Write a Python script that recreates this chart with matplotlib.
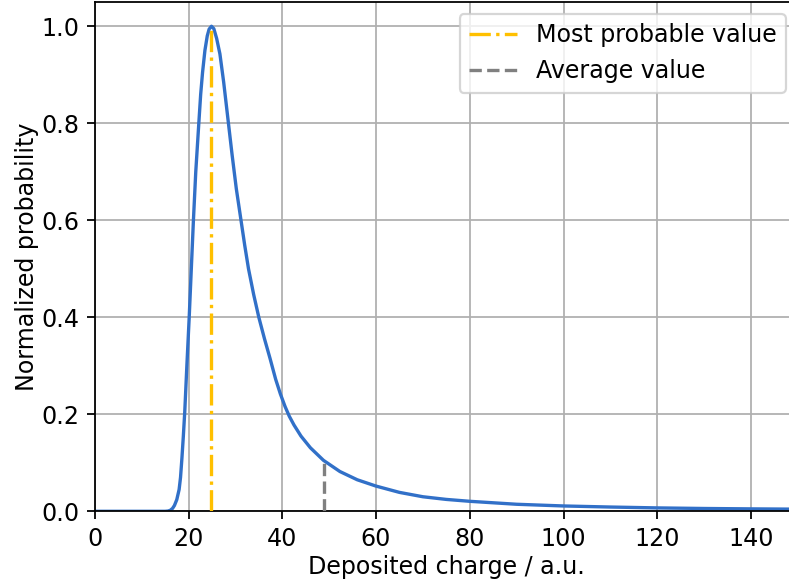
import matplotlib
matplotlib.use("Agg")
import matplotlib.pyplot as plt

# Normalized deposited-charge distribution (sampled points)
charge = [0.0, 5.0, 10.0, 15.0, 15.6, 16.1, 16.6, 17.0, 17.5, 18.0, 18.3,
          18.6, 18.9, 19.2, 19.65, 20.15, 20.6, 21.05, 21.55, 22.2, 22.6,
          23.0, 23.5, 24.0, 24.4, 24.9, 25.4, 26.0, 26.7, 27.5, 28.4, 29.3,
          30.2, 31.2, 32.0, 32.8, 33.9, 35.0, 36.2, 37.4, 38.6, 39.6, 40.6,
          41.5, 42.5, 44.0, 46.0, 48.8, 52.3, 56.0, 60.0, 65.0, 70.0, 75.0,
          80.0, 90.0, 100.0, 110.0, 120.0, 130.0, 140.0, 150.0]
probability = [0.0, 0.0, 0.0, 0.0, 0.0005, 0.002, 0.006, 0.012, 0.024, 0.045,
               0.07, 0.11, 0.155, 0.205, 0.3, 0.4, 0.5, 0.6, 0.7, 0.8, 0.86,
               0.905, 0.95, 0.98, 0.994, 1.0, 0.995, 0.975, 0.943, 0.885,
               0.81, 0.735, 0.665, 0.6, 0.548, 0.5, 0.447, 0.4, 0.356, 0.315,
               0.272, 0.242, 0.216, 0.196, 0.178, 0.155, 0.131, 0.105, 0.082,
               0.065, 0.052, 0.039, 0.030, 0.0245, 0.0206, 0.0145, 0.011,
               0.0088, 0.007, 0.0058, 0.005, 0.0044]

most_probable = 24.9
most_probable_height = 1.0
average = 48.8
average_height = 0.105

x_ticks = [0, 20, 40, 60, 80, 100, 120, 140]
y_ticks = [0.0, 0.2, 0.4, 0.6, 0.8, 1.0]

plt.rcParams["font.size"] = 10.7

dpi = 160
fig = plt.figure(figsize=(789 / dpi, 581 / dpi), dpi=dpi)
W, H = 789, 581
left_px, bottom_px, top_px = 94.75, 511.3, 2.0
width_px = 150 * 4.6875
ax = fig.add_axes([left_px / W, (H - bottom_px) / H,
                   width_px / W, (bottom_px - top_px) / H])

ax.plot(charge, probability, color="#3170c8", lw=1.5, zorder=2)
ax.vlines(most_probable, 0, most_probable_height, colors="#ffc000",
          linestyles="-.", lw=1.5, label="Most probable value", zorder=3)
ax.vlines(average, 0, average_height, colors="gray",
          linestyles="--", lw=1.5, label="Average value", zorder=3)

ax.set_xlim(0, 150)
ax.set_ylim(0, 1.05)
ax.set_xticks(x_ticks)
ax.set_yticks(y_ticks)
ax.grid(True)
ax.set_xlabel("Deposited charge / a.u.", labelpad=2.0)
ax.set_ylabel("Normalized probability", labelpad=1.0)
ax.legend(loc="upper right")

fig.savefig("out.png", dpi=dpi)
